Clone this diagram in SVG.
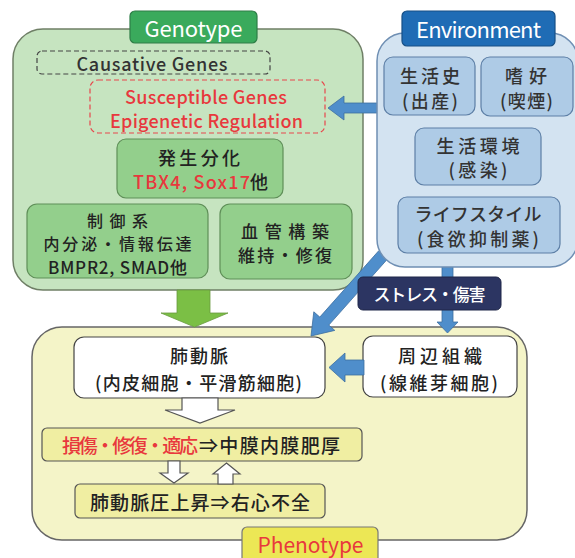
<svg xmlns="http://www.w3.org/2000/svg" width="575" height="558" viewBox="0 0 575 558">
<style>
text { font-family: "Noto Sans CJK JP", "Noto Sans", sans-serif; dominant-baseline: central; font-weight: 500; }
.t { font-size: 18px; fill: #222; text-anchor: middle; }
.s { font-size: 18px; fill: #222; }
.t17 { font-size: 17px; }
.t16 { font-size: 16px; }
.lbl { font-size: 22px; fill: #fff; text-anchor: middle; font-weight: 400; }
.gbox { fill: #93cf8c; stroke: #5f8f58; stroke-width: 1.2; }
.ebox { fill: #aecbe6; stroke: #5d7fa6; stroke-width: 1.2; }
.barrow { fill: #4f8ecb; stroke: #3e6fa0; stroke-width: 0.8; }
.warrow { fill: #fff; stroke: #555; stroke-width: 1.2; }
.ybox { fill: #f0eea2; stroke: #555; stroke-width: 1.2; }
.wbox { fill: #fff; stroke: #444; stroke-width: 1.2; }
</style>

<g id="genotype">
  <rect x="13" y="29" width="350" height="261" rx="30" fill="#c6e4c0" stroke="#6f7f66" stroke-width="1.5"/>
  <rect x="130" y="11" width="127" height="32" rx="5" fill="#3aaa5c" stroke="#2e7d46" stroke-width="1.2"/>
  <text class="lbl" x="193.5" y="27" textLength="98" lengthAdjust="spacing">Genotype</text>
</g>
<g id="causative">
  <rect x="37" y="51" width="233" height="23" rx="5" fill="none" stroke="#444" stroke-width="1.2" stroke-dasharray="5,3"/>
  <text class="t" x="152" y="63" style="fill:#333" textLength="151" lengthAdjust="spacing">Causative Genes</text>
</g>
<g id="susceptible">
  <rect x="90" y="80" width="235" height="53" rx="8" fill="none" stroke="#e8474c" stroke-width="1.2" stroke-dasharray="5,3"/>
  <text class="t" x="206" y="96" style="fill:#e8383d" textLength="162" lengthAdjust="spacing">Susceptible Genes</text>
  <text class="t" x="206.5" y="120" style="fill:#e8383d" textLength="193" lengthAdjust="spacing">Epigenetic Regulation</text>
</g>
<g id="development">
  <rect class="gbox" x="117" y="139" width="166" height="59" rx="9"/>
  <text class="t" x="199" y="157" textLength="82" lengthAdjust="spacing">発生分化</text>
  <text class="s" x="133" y="181" style="fill:#e8383d" textLength="117" lengthAdjust="spacing">TBX4, Sox17</text>
  <text class="s" x="250" y="181">他</text>
</g>
<g id="regulation">
  <rect class="gbox" x="27" y="204" width="181" height="74" rx="10"/>
  <text class="t t16" x="117.5" y="219.5" textLength="61" lengthAdjust="spacing">制御系</text>
  <text class="t t16" x="117.5" y="243" textLength="148" lengthAdjust="spacing">内分泌・情報伝達</text>
  <text class="t t17" x="117.5" y="266" textLength="139" lengthAdjust="spacing">BMPR2, SMAD他</text>
</g>
<g id="vascular">
  <rect class="gbox" x="220" y="204" width="132" height="75" rx="10"/>
  <text class="t t17" x="285" y="230" textLength="88" lengthAdjust="spacing">血管構築</text>
  <text class="t t17" x="285" y="254" textLength="94" lengthAdjust="spacing">維持・修復</text>
</g>

<g id="phenotype">
  <rect x="32" y="327" width="495" height="213" rx="30" fill="#f4f4c8" stroke="#666" stroke-width="1.5"/>
  <rect x="242" y="527" width="136" height="40" rx="5" fill="#ece755" stroke="#777" stroke-width="1.2"/>
  <text class="lbl" x="310.5" y="544" style="fill:#e8383d;font-size:21px" textLength="106" lengthAdjust="spacing">Phenotype</text>
</g>
<g id="pulmonary-artery">
  <rect class="wbox" x="74" y="337" width="251" height="61" rx="10"/>
  <text class="t" x="199" y="355" textLength="58" lengthAdjust="spacing">肺動脈</text>
  <text class="t" x="198.5" y="382" textLength="207" lengthAdjust="spacing">(内皮細胞・平滑筋細胞)</text>
</g>
<g id="surrounding">
  <rect class="wbox" x="363" y="336" width="154" height="61" rx="10"/>
  <text class="t" x="440" y="355" textLength="84" lengthAdjust="spacing">周辺組織</text>
  <text class="t" x="439" y="382" textLength="118" lengthAdjust="spacing">(線維芽細胞)</text>
</g>
<g id="thickening">
  <rect class="ybox" x="42" y="428" width="320" height="33" rx="5"/>
  <text class="s" x="62" y="444" style="font-size:19px;fill:#e8383d" textLength="136" lengthAdjust="spacing">損傷・修復・適応</text>
  <text class="s" x="199" y="444" style="font-size:19px" textLength="141" lengthAdjust="spacing">⇒中膜内膜肥厚</text>
</g>
<g id="pressure">
  <rect class="ybox" x="75" y="484" width="250" height="34" rx="5"/>
  <text class="t" x="200" y="501" style="font-size:19px" textLength="220" lengthAdjust="spacing">肺動脈圧上昇⇒右心不全</text>
</g>

<g id="connectors">
  <polygon class="barrow" points="328,108 344,96 344,103 380,103 380,113 344,113 344,120"/>
  <polygon class="barrow" points="311,336 334.8,330.4 328.8,325.1 387.5,259 378.5,251 319.8,317.1 313.8,311.8"/>
  <polygon class="barrow" points="442,262 453,262 453,322 458,322 447.5,333 437,322 442,322"/>
  <polygon class="barrow" points="329,367.5 345,353 345,360 364,360 364,375 345,375 345,382"/>
  <polygon points="177,290 210,290 210,313 228,313 194.5,327 161,313 177,313" fill="#7bbf45" stroke="#6a9a40" stroke-width="0.8"/>
  <polygon class="warrow" points="182,398 218,398 218,410 235,410 200,423 165,410 182,410"/>
  <polygon class="warrow" points="168,461 180,461 180,473 188,473 174,483 160,473 168,473"/>
  <polygon class="warrow" points="226.5,463 240,474 233,474 233,484 218,484 218,474 213,474"/>
</g>

<g id="environment">
  <rect x="377" y="33" width="201" height="234" rx="28" fill="#d3e3f1" stroke="#6f8fb3" stroke-width="1.5"/>
  <rect x="402" y="11" width="153" height="35" rx="5" fill="#1f6cb5" stroke="#174f85" stroke-width="1.2"/>
  <text class="lbl" x="478.5" y="28" textLength="125" lengthAdjust="spacing">Environment</text>
</g>
<g id="life-history">
  <rect class="ebox" x="384" y="57" width="91" height="58" rx="9"/>
  <text class="t" x="430" y="75" style="fill:#333" textLength="60" lengthAdjust="spacing">生活史</text>
  <text class="t" x="430" y="100" style="fill:#333" textLength="56" lengthAdjust="spacing">(出産)</text>
</g>
<g id="preference">
  <rect class="ebox" x="481" y="57" width="92" height="59" rx="9"/>
  <text class="t" x="526" y="75" style="fill:#333" textLength="42" lengthAdjust="spacing">嗜好</text>
  <text class="t" x="526.5" y="100" style="fill:#333" textLength="53" lengthAdjust="spacing">(喫煙)</text>
</g>
<g id="living-env">
  <rect class="ebox" x="415" y="128" width="126" height="57" rx="9"/>
  <text class="t" x="478" y="145" style="fill:#333" textLength="83" lengthAdjust="spacing">生活環境</text>
  <text class="t" x="478" y="169" style="fill:#333" textLength="59" lengthAdjust="spacing">(感染)</text>
</g>
<g id="lifestyle">
  <rect class="ebox" x="398" y="197" width="162" height="56" rx="9"/>
  <text class="t" x="478" y="213" style="fill:#333" textLength="127" lengthAdjust="spacing">ライフスタイル</text>
  <text class="t" x="478" y="238" style="fill:#333" textLength="122" lengthAdjust="spacing">(食欲抑制薬)</text>
</g>
<g id="stress">
  <rect x="358" y="277" width="143" height="33" rx="5" fill="#2c3562" stroke="#1f2748" stroke-width="1"/>
  <text class="t" x="429.5" y="293" style="fill:#fff;font-size:17px" textLength="112" lengthAdjust="spacing">ストレス・傷害</text>
</g>
</svg>
